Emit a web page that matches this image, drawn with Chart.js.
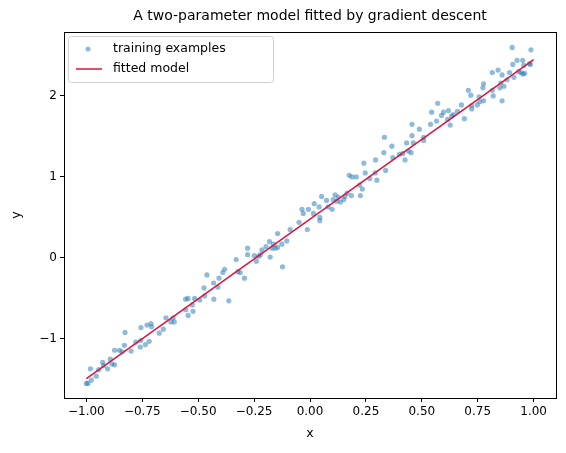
<!DOCTYPE html>
<html>
<head>
<meta charset="utf-8">
<script src="https://cdn.jsdelivr.net/npm/chart.js@4/dist/chart.umd.min.js"></script>
<style>
  html, body { margin: 0; padding: 0; background: #fff; }
  #wrap { width: 566px; height: 453px; }
</style>
</head>
<body>
<div id="wrap"><canvas id="chart" width="566" height="453"></canvas></div>
<script>
// training examples as [x, y]
const trainX = [-1.0,-0.993,-0.978,-0.982,-0.956,-0.945,-0.927,-0.923,-0.905,-0.893,-0.886,-0.874,-0.874,-0.852,-0.841,-0.83,-0.827,-0.8,-0.779,-0.759,-0.756,-0.757,-0.736,-0.729,-0.719,-0.711,-0.708,-0.674,-0.656,-0.644,-0.622,-0.612,-0.607,-0.556,-0.545,-0.556,-0.545,-0.526,-0.523,-0.516,-0.493,-0.474,-0.471,-0.461,-0.431,-0.43,-0.412,-0.407,-0.39,-0.382,-0.363,-0.33,-0.323,-0.312,-0.293,-0.279,-0.279,-0.249,-0.24,-0.23,-0.222,-0.215,-0.197,-0.181,-0.178,-0.17,-0.163,-0.156,-0.145,-0.145,-0.126,-0.123,-0.104,-0.089,-0.049,-0.036,-0.03,-0.012,-0.007,0.015,0.019,0.041,0.044,0.044,0.052,0.074,0.081,0.099,0.104,0.112,0.119,0.126,0.136,0.151,0.156,0.166,0.175,0.185,0.188,0.207,0.222,0.225,0.234,0.241,0.247,0.267,0.292,0.293,0.299,0.33,0.333,0.338,0.366,0.37,0.4,0.415,0.425,0.44,0.432,0.452,0.456,0.456,0.462,0.489,0.508,0.508,0.539,0.544,0.566,0.571,0.588,0.597,0.615,0.619,0.627,0.633,0.641,0.659,0.677,0.69,0.708,0.719,0.723,0.723,0.748,0.756,0.759,0.773,0.776,0.776,0.815,0.815,0.819,0.841,0.849,0.853,0.859,0.867,0.859,0.881,0.892,0.904,0.907,0.912,0.926,0.933,0.944,0.951,0.952,0.956,0.96,0.982,0.985,0.988];
const trainY = [-1.55,-1.55,-1.51,-1.37,-1.46,-1.38,-1.29,-1.33,-1.37,-1.25,-1.31,-1.32,-1.14,-1.14,-1.16,-1.08,-0.92,-1.15,-1.04,-1.10,-0.86,-1.02,-1.07,-0.83,-1.03,-0.81,-0.85,-0.93,-0.88,-0.74,-0.79,-0.74,-0.79,-0.51,-0.50,-0.64,-0.71,-0.58,-0.66,-0.50,-0.52,-0.37,-0.47,-0.21,-0.31,-0.51,-0.36,-0.25,-0.18,-0.14,-0.53,-0.02,-0.17,-0.18,-0.25,0.12,0.04,0.03,-0.04,0.02,0.04,0.10,0.14,0.20,0.01,0.12,0.17,0.12,0.30,0.13,0.17,-0.11,0.21,0.35,0.44,0.60,0.55,0.35,0.60,0.55,0.67,0.63,0.50,0.46,0.76,0.71,0.63,0.60,0.72,0.78,0.70,0.75,0.69,0.72,0.76,0.80,1.02,0.77,1.00,1.00,0.90,0.77,0.85,1.17,1.05,0.98,1.05,1.21,0.96,1.30,1.49,1.08,1.38,1.24,1.28,1.29,1.21,1.32,1.42,1.30,1.51,1.65,1.42,1.59,1.49,1.45,1.65,1.80,1.69,1.91,1.76,1.80,1.71,1.82,1.64,1.75,1.77,1.81,1.89,1.72,2.07,2.01,1.88,1.84,1.89,1.99,1.93,2.10,2.15,1.94,2.29,2.07,2.00,2.32,2.10,2.16,1.94,2.12,2.26,2.20,2.29,2.60,2.39,2.23,2.44,2.30,2.29,2.44,2.27,2.38,2.28,2.40,2.39,2.57];

// fitted model line end points
const fitX = [-1.0, 1.0];
const fitY = [-1.49, 2.45];

const xTicks = [-1, -0.75, -0.5, -0.25, 0, 0.25, 0.5, 0.75, 1];
const yTicks = [-1, 0, 1, 2];

const FONT = "'DejaVu Sans', sans-serif";
const minus = s => s.replace("-", "\u2212");

const frame = {
    id: "frame",
    afterDraw(chart) {
        const { ctx, chartArea: a } = chart;
        ctx.save();
        ctx.strokeStyle = "#000";
        ctx.lineWidth = 1;
        ctx.strokeRect(a.left + 0.5, a.top + 0.5, a.right - a.left, a.bottom - a.top);

        ctx.fillStyle = "#000";
        ctx.font = "14px " + FONT;
        ctx.textAlign = "center";
        ctx.textBaseline = "middle";
        ctx.fillText("A two-parameter model fitted by gradient descent", (a.left + a.right) / 2, 16);

        // axis titles
        ctx.font = "12.5px " + FONT;
        ctx.fillText("x", (a.left + a.right) / 2, 434);
        ctx.save();
        ctx.translate(17, (a.top + a.bottom) / 2);
        ctx.rotate(-Math.PI / 2);
        ctx.fillText("y", 0, 0);
        ctx.restore();

        // legend box
        const lx = a.left + 4, ly = a.top + 4, lw = 205, lh = 46;
        ctx.fillStyle = "rgba(255,255,255,0.8)";
        ctx.strokeStyle = "#d0d0d0";
        ctx.beginPath();
        ctx.roundRect(lx + 0.5, ly + 0.5, lw, lh, 3);
        ctx.fill();
        ctx.stroke();
        ctx.fillStyle = "rgba(31,119,180,0.5)";
        ctx.beginPath();
        ctx.arc(lx + 20, ly + 13, 2.5, 0, Math.PI * 2);
        ctx.fill();
        ctx.strokeStyle = "crimson";
        ctx.lineWidth = 1.5;
        ctx.beginPath();
        ctx.moveTo(lx + 8, ly + 33);
        ctx.lineTo(lx + 34, ly + 33);
        ctx.stroke();
        ctx.fillStyle = "#000";
        ctx.font = "12.5px " + FONT;
        ctx.textAlign = "left";
        ctx.fillText("training examples", lx + 45, ly + 13);
        ctx.fillText("fitted model", lx + 45, ly + 33);
        ctx.restore();
    }
};

new Chart(document.getElementById("chart"), {
    type: "scatter",
    data: {
        datasets: [
            {
                label: "training examples",
                data: trainX.map((x, i) => ({ x: x, y: trainY[i] })),
                backgroundColor: "rgba(31,119,180,0.5)",
                borderWidth: 0,
                pointRadius: 2.6,
                order: 2
            },
            {
                label: "fitted model",
                type: "line",
                data: fitX.map((x, i) => ({ x: x, y: fitY[i] })),
                borderColor: "crimson",
                borderWidth: 1.5,
                pointRadius: 0,
                order: 1
            }
        ]
    },
    options: {
        responsive: false,
        animation: false,
        layout: { padding: { top: 32, right: 10, left: 0, bottom: 0 } },
        plugins: { legend: { display: false }, tooltip: { enabled: false } },
        scales: {
            x: {
                type: "linear",
                min: -1.1, max: 1.1,
                afterFit: s => { s.height = 55; },
                afterBuildTicks: s => { s.ticks = xTicks.map(v => ({ value: v })); },
                grid: { drawOnChartArea: false, tickLength: 4, color: "#000" },
                border: { display: false },
                ticks: {
                    color: "#000", font: { family: FONT, size: 12 }, padding: 3,
                    callback: v => minus(v.toFixed(2))
                }
            },
            y: {
                type: "linear",
                min: -1.73, max: 2.79,
                afterFit: s => { s.width = 64; },
                afterBuildTicks: s => { s.ticks = yTicks.map(v => ({ value: v })); },
                grid: { drawOnChartArea: false, tickLength: 4, color: "#000" },
                border: { display: false },
                ticks: {
                    color: "#000", font: { family: FONT, size: 12 }, padding: 3,
                    callback: v => minus(String(v))
                }
            }
        }
    },
    plugins: [frame]
});
</script>
</body>
</html>
